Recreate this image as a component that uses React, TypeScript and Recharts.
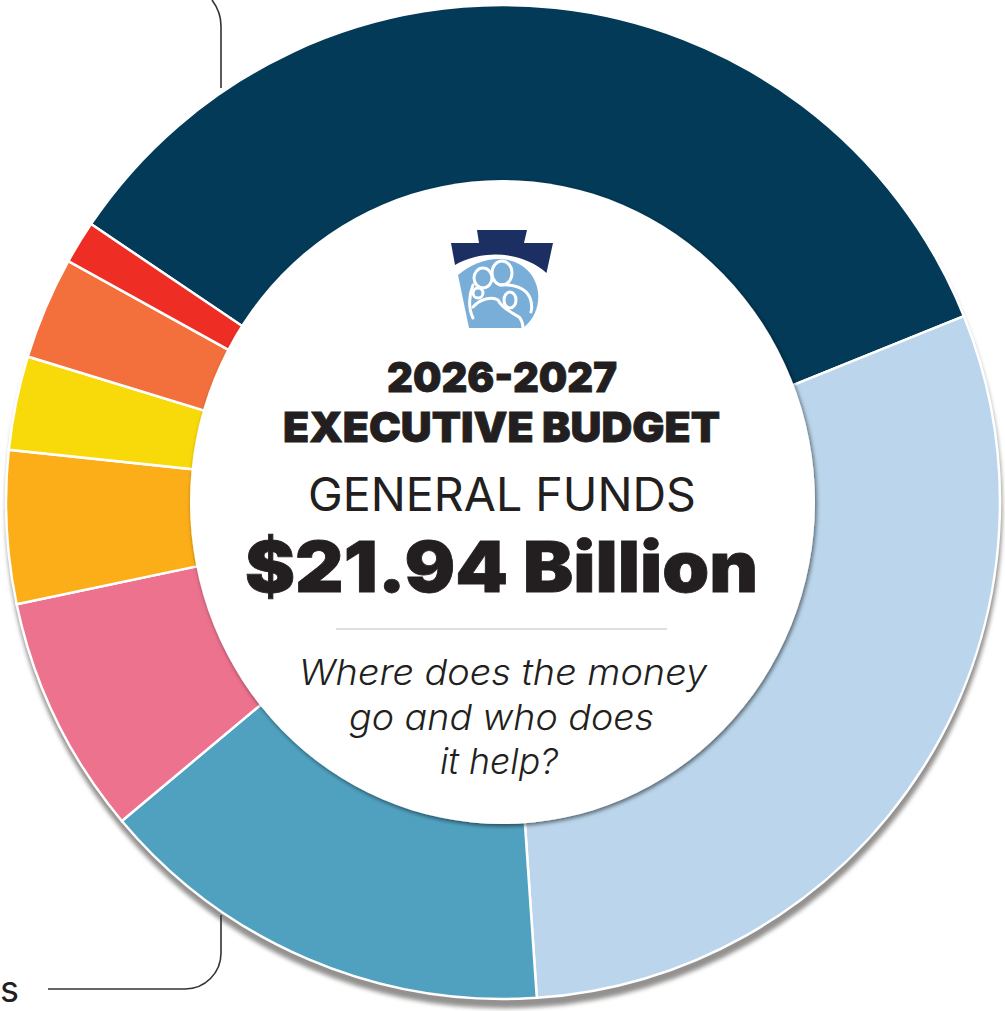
import * as React from "react";
import { Cell, Pie, PieChart } from "recharts";

const segments = ["navy", "lightBlue", "teal", "pink", "amber", "yellow", "orange", "red"];
const amounts = [7.56, 6.585, 3.29, 1.71, 1.09, 0.67, 0.73, 0.305];
const colors = ["#023a58", "#bbd6ec", "#50a1c0", "#ec728e", "#fbae17", "#f8da0b", "#f3703d", "#ee2e24"];

const data = segments.map((name, i) => ({ name, value: amounts[i] }));

const heavy = {
  fontFamily: "Inter",
  fontWeight: 900,
  fill: "#231f20",
  stroke: "#231f20",
  strokeWidth: 0.8,
  lengthAdjust: "spacingAndGlyphs",
};

function Logo() {
  return (
    <g>
      <path
        d="M477 230 H527 L524 243 H553 L546.5 273 C522 251 482 249 455 265 L451 243 H479 Z"
        fill="#1c2f63"
      />
      <path
        d="M458 275 C480 256 512 252 530 273 C542 288 542 313 523 328 H469 Z"
        fill="#79aed9"
      />
      <g fill="none" stroke="#fff" strokeWidth={3} strokeLinecap="round">
        <ellipse cx={483} cy={278} rx={9} ry={10} />
        <ellipse cx={502} cy={273} rx={10} ry={12} />
        <ellipse cx={478} cy={293} rx={5} ry={5} />
        <ellipse cx={510} cy={300} rx={6} ry={8} />
        <path d="M473 285 C469 295 468 308 473 318" />
        <path d="M473 307 C480 299 492 296 498 300 C503 310 516 314 520 318 C522 321 523 325 523 328" />
        <path d="M500 285 C514 284 526 288 530 298 C532 303 532 308 531 312" />
      </g>
    </g>
  );
}

export default function App() {
  return (
    <div style={{ position: "absolute", left: 0, top: 0, width: 1005, height: 1011, overflow: "hidden", background: "#fff" }}>
      <div style={{ position: "absolute", inset: 0, filter: "drop-shadow(1px 8px 2px rgba(105,103,100,0.72))" }}>
        <PieChart width={1005} height={1011} margin={{ top: 0, right: 0, bottom: 0, left: 0 }}>
          <Pie
            data={data}
            dataKey="value"
            cx={503}
            cy={502}
            innerRadius={290}
            outerRadius={497}
            startAngle={146}
            endAngle={-214}
            stroke="#fff"
            strokeWidth={2.5}
            isAnimationActive={false}
          >
            {data.map((d, i) => (
              <Cell key={d.name} fill={colors[i]} />
            ))}
          </Pie>
        </PieChart>
      </div>
      <svg width={1005} height={1011} style={{ position: "absolute", left: 0, top: 0 }}>
        <defs>
          <filter id="centerShadow" x="-10%" y="-10%" width="120%" height="120%">
            <feDropShadow dx={1.5} dy={2} stdDeviation={2} floodColor="#000" floodOpacity={0.55} />
          </filter>
        </defs>
        <ellipse cx={502.5} cy={502} rx={312.5} ry={322} fill="#fff" filter="url(#centerShadow)" />
        <path d="M212 0 C218 8 221 16 221 26 V88" fill="none" stroke="#333" strokeWidth={1.6} />
        <path d="M48 989 H185 C205 989 221 973 221 953 V915" fill="none" stroke="#333" strokeWidth={1.6} />
        <Logo />
        <text x={387} y={392} fontSize={41} textLength={230} {...heavy}>2026-2027</text>
        <text x={283} y={442} fontSize={41} textLength={437} {...heavy}>EXECUTIVE BUDGET</text>
        <text x={308} y={511} fontSize={46} textLength={388} lengthAdjust="spacingAndGlyphs" fontFamily="Inter" fontWeight={400} fill="#231f20">GENERAL FUNDS</text>
        <text x={245} y={592} fontSize={70} textLength={513} {...heavy}>$21.94 Billion</text>
        <line x1={336} y1={629} x2={667} y2={629} stroke="#bdbdbd" strokeWidth={1.2} />
        <g fontFamily="Inter" fontStyle="italic" fontWeight={300} fontSize={36} fill="#231f20">
          <text x={299} y={685} textLength={408} lengthAdjust="spacingAndGlyphs">Where does the money</text>
          <text x={349} y={730} textLength={305} lengthAdjust="spacingAndGlyphs">go and who does</text>
          <text x={440} y={774} textLength={118} lengthAdjust="spacingAndGlyphs">it help?</text>
        </g>
        <text x={0} y={1002} fontFamily="Inter" fontSize={36} fill="#231f20">s</text>
      </svg>
    </div>
  );
}
